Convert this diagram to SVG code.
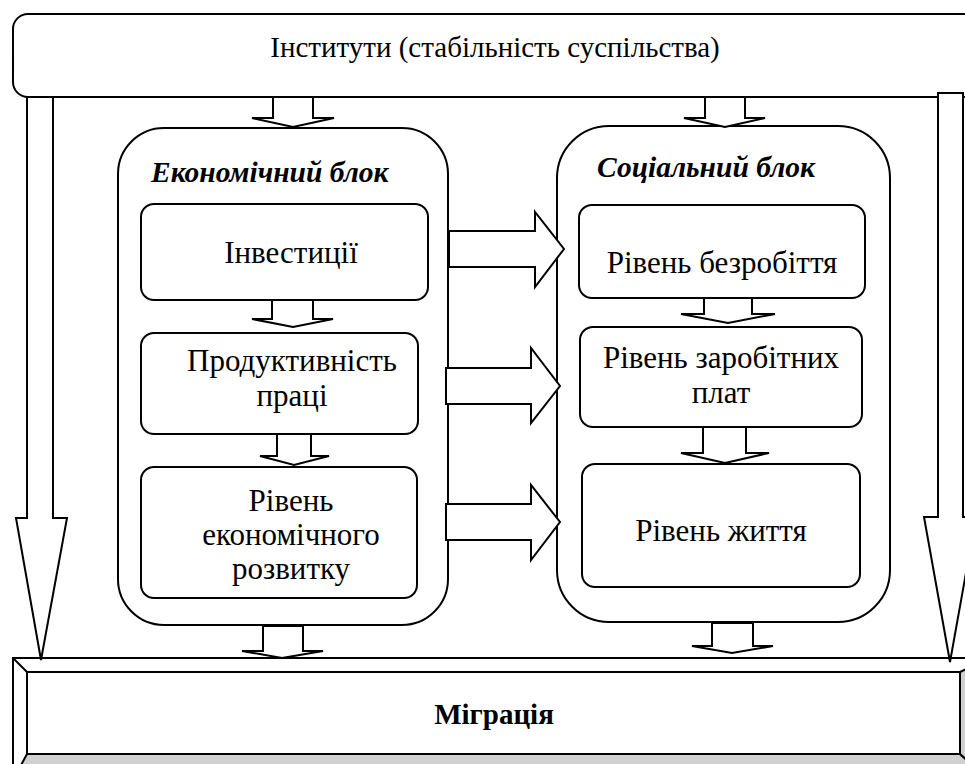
<svg xmlns="http://www.w3.org/2000/svg" width="965" height="764" viewBox="0 0 965 764">
<style>
.box{fill:#fff;stroke:#000;stroke-width:2}
.arr{fill:#fff;stroke:#000;stroke-width:2;stroke-linejoin:miter}
text{font-family:'Liberation Serif','Times New Roman',serif;fill:#000}
.t{font-size:31px;text-anchor:middle}
.tt{font-size:29px;text-anchor:middle}
.h{font-size:29.5px;font-weight:bold;font-style:italic}
.b{font-size:29px;font-weight:bold;text-anchor:middle}
</style>
<rect width="965" height="764" fill="#fff"/>
<g id="migration">
<polygon points="13,658 990,658 990,780 13,780" fill="#fff" stroke="#000" stroke-width="2"/>
<polygon points="13,780 27,754 960,754 990,780" fill="#d0d0d0" stroke="#000" stroke-width="2"/>
<polygon points="960,672 990,658 990,780 960,754" fill="#d0d0d0" stroke="#000" stroke-width="2"/>
<line x1="13" y1="658" x2="27" y2="672" stroke="#000" stroke-width="2"/>
<rect x="27" y="672" width="933" height="82" fill="#fff" stroke="#000" stroke-width="2"/>
<text class="b" x="494" y="724" font-family="Liberation Serif">Міграція</text>
</g>
<g id="institutions">
<rect class="box" x="13" y="14" width="990" height="83" rx="15"/>
<text class="tt" x="495" y="57" font-family="Liberation Serif">Інститути (стабільність суспільства)</text>
</g>
<g id="economic-block">
<rect class="box" x="118" y="128" width="330" height="497" rx="46"/>
<text class="h" x="151" y="182" font-family="Liberation Serif">Економічний блок</text>
</g>
<g id="social-block">
<rect class="box" x="557" y="126" width="333" height="496" rx="52"/>
<text class="h" x="597" y="177" font-family="Liberation Serif">Соціальний блок</text>
</g>
<g id="investments">
<rect class="box" x="141" y="204" width="287" height="96" rx="13"/>
<text class="t" x="291" y="263" font-family="Liberation Serif">Інвестиції</text>
</g>
<g id="productivity">
<rect class="box" x="141" y="333" width="277" height="101" rx="13"/>
<text class="t" x="292" y="371" font-family="Liberation Serif">Продуктивність</text>
<text class="t" x="292" y="406" font-family="Liberation Serif">праці</text>
</g>
<g id="econ-development">
<rect class="box" x="141" y="467" width="276" height="131" rx="13"/>
<text class="t" x="291" y="511" font-family="Liberation Serif">Рівень</text>
<text class="t" x="291" y="545" font-family="Liberation Serif">економічного</text>
<text class="t" x="291" y="579" font-family="Liberation Serif">розвитку</text>
</g>
<g id="unemployment">
<rect class="box" x="579" y="205" width="286" height="93" rx="13"/>
<text class="t" x="722" y="273" font-family="Liberation Serif">Рівень безробіття</text>
</g>
<g id="wages">
<rect class="box" x="580" y="327" width="282" height="100" rx="13"/>
<text class="t" x="721" y="368" font-family="Liberation Serif">Рівень заробітних</text>
<text class="t" x="721" y="403" font-family="Liberation Serif">плат</text>
</g>
<g id="living">
<rect class="box" x="582" y="464" width="278" height="123" rx="13"/>
<text class="t" x="721" y="541" font-family="Liberation Serif">Рівень життя</text>
</g>
<g id="connectors">
<polygon class="arr" points="27,97 53,97 53,518 67,518 41,660 16,518 27,518"/>
<polygon class="arr" points="938,93 963,93 963,517 976,517 950,662 924,517 938,517"/>
<polygon class="arr" points="273,97 313,97 313,118 334,118 293,127 252,118 273,118"/>
<polygon class="arr" points="705,97 745,97 745,118 765,118 725,127 684,118 705,118"/>
<polygon class="arr" points="272,300 313,300 313,319 333,319 293,327 252,319 272,319"/>
<polygon class="arr" points="277,434 311,434 311,456 329,456 294,465 260,456 277,456"/>
<polygon class="arr" points="704,298 752,298 752,314 775,314 728,323 681,314 704,314"/>
<polygon class="arr" points="703,427 746,427 746,453 769,453 725,463 681,453 703,453"/>
<polygon class="arr" points="263,626 303,626 303,651 323,651 282,658 242,651 263,651"/>
<polygon class="arr" points="712,623 753,623 753,646 773,646 732,653 692,646 712,646"/>
<polygon class="arr" points="449,231 535,231 535,212 564,249 535,287 535,267 449,267"/>
<polygon class="arr" points="446,368 531,368 531,348 560,386 531,423 531,404 446,404"/>
<polygon class="arr" points="446,504 531,504 531,485 560,522 531,560 531,540 446,540"/>
</g>
</svg>
